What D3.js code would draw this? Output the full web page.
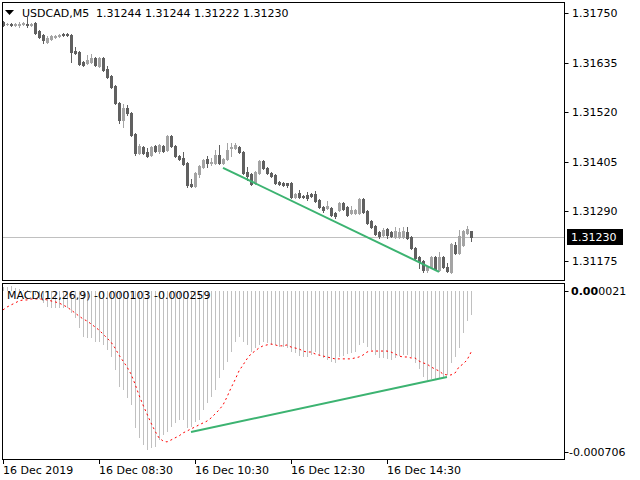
<!DOCTYPE html>
<html><head><meta charset="utf-8">
<script src="https://cdn.jsdelivr.net/npm/d3@7"></script>
<style>
body{margin:0;background:#fff}
svg{display:block}
text{font-family:"DejaVu Sans",sans-serif;font-size:11px;fill:#000}
</style>
</head><body>
<svg id="c" width="640" height="480"></svg>
<script>
const symbol = "USDCAD,M5";
const headerValues = "1.31244 1.31244 1.31222 1.31230";
const macdTitle = "MACD(12,26,9) -0.000103 -0.000259";
const timeLabels = ["16 Dec 2019","16 Dec 08:30","16 Dec 10:30","16 Dec 12:30","16 Dec 14:30"];
const timeLabelIndex = [0,24,48,72,96];
const priceTicks = [1.31750,1.31635,1.31520,1.31405,1.31290,1.31175];
const lastPrice = 1.31230;
const macdTicks = [0.000021,-0.000706];

const open = [1.31729,1.31724,1.31724,1.31722,1.31722,1.31724,1.31724,1.31722,1.31727,1.31709,
1.31699,1.31683,1.31690,1.31695,1.31697,1.31702,1.31702,1.31699,1.31662,1.31659,
1.31636,1.31634,1.31636,1.31645,1.31628,1.31645,1.31621,1.31604,1.31581,1.31542,
1.31502,1.31530,1.31518,1.31469,1.31425,1.31440,1.31428,1.31421,1.31442,1.31430,
1.31442,1.31433,1.31464,1.31442,1.31418,1.31414,1.31402,1.31354,1.31349,1.31377,
1.31393,1.31411,1.31402,1.31402,1.31421,1.31402,1.31411,1.31437,1.31437,1.31440,
1.31428,1.31382,1.31377,1.31356,1.31380,1.31407,1.31390,1.31380,1.31375,1.31358,
1.31356,1.31356,1.31356,1.31323,1.31333,1.31326,1.31328,1.31330,1.31330,1.31316,
1.31301,1.31298,1.31298,1.31287,1.31294,1.31309,1.31301,1.31287,1.31287,1.31287,
1.31319,1.31291,1.31268,1.31256,1.31242,1.31235,1.31249,1.31242,1.31230,1.31230,
1.31230,1.31242,1.31230,1.31206,1.31184,1.31175,1.31154,1.31161,1.31184,1.31154,
1.31184,1.31161,1.31149,1.31213,1.31194,1.31213,1.31240,1.31244];
const high = [1.31731,1.31727,1.31726,1.31727,1.31729,1.31729,1.31741,1.31727,1.31729,1.31710,
1.31702,1.31697,1.31699,1.31699,1.31702,1.31704,1.31704,1.31702,1.31671,1.31662,
1.31638,1.31652,1.31655,1.31648,1.31648,1.31648,1.31628,1.31606,1.31583,1.31544,
1.31539,1.31537,1.31521,1.31471,1.31447,1.31442,1.31437,1.31442,1.31444,1.31447,
1.31444,1.31467,1.31467,1.31444,1.31421,1.31428,1.31404,1.31365,1.31382,1.31397,
1.31411,1.31418,1.31414,1.31433,1.31444,1.31414,1.31449,1.31449,1.31449,1.31442,
1.31430,1.31393,1.31380,1.31383,1.31409,1.31409,1.31393,1.31382,1.31377,1.31361,
1.31358,1.31356,1.31358,1.31333,1.31340,1.31328,1.31335,1.31333,1.31337,1.31319,
1.31302,1.31314,1.31301,1.31289,1.31311,1.31311,1.31302,1.31302,1.31296,1.31321,
1.31321,1.31294,1.31270,1.31258,1.31244,1.31251,1.31251,1.31244,1.31254,1.31251,
1.31254,1.31254,1.31233,1.31208,1.31187,1.31177,1.31163,1.31187,1.31187,1.31196,
1.31187,1.31170,1.31217,1.31219,1.31247,1.31247,1.31256,1.31244];
const low = [1.31719,1.31722,1.31719,1.31719,1.31717,1.31722,1.31717,1.31719,1.31702,1.31692,
1.31681,1.31681,1.31688,1.31692,1.31695,1.31697,1.31697,1.31636,1.31655,1.31629,
1.31628,1.31631,1.31634,1.31628,1.31625,1.31616,1.31599,1.31576,1.31539,1.31495,
1.31485,1.31514,1.31464,1.31421,1.31423,1.31423,1.31416,1.31418,1.31428,1.31425,
1.31428,1.31430,1.31440,1.31416,1.31409,1.31397,1.31347,1.31347,1.31347,1.31370,
1.31390,1.31393,1.31397,1.31400,1.31400,1.31400,1.31409,1.31418,1.31435,1.31425,
1.31377,1.31363,1.31351,1.31354,1.31377,1.31388,1.31377,1.31370,1.31354,1.31351,
1.31349,1.31347,1.31321,1.31321,1.31321,1.31321,1.31316,1.31323,1.31311,1.31298,
1.31289,1.31296,1.31280,1.31275,1.31291,1.31294,1.31280,1.31284,1.31284,1.31284,
1.31287,1.31261,1.31251,1.31235,1.31228,1.31233,1.31228,1.31230,1.31228,1.31228,
1.31228,1.31226,1.31203,1.31180,1.31159,1.31149,1.31149,1.31159,1.31154,1.31152,
1.31159,1.31149,1.31147,1.31191,1.31191,1.31210,1.31237,1.31222];
const close = [1.31722,1.31725,1.31722,1.31724,1.31724,1.31727,1.31722,1.31724,1.31704,1.31695,
1.31688,1.31692,1.31697,1.31697,1.31699,1.31699,1.31700,1.31659,1.31657,1.31631,
1.31629,1.31641,1.31645,1.31629,1.31645,1.31618,1.31602,1.31578,1.31542,1.31502,
1.31530,1.31518,1.31467,1.31425,1.31442,1.31425,1.31418,1.31440,1.31430,1.31444,
1.31430,1.31464,1.31442,1.31418,1.31411,1.31400,1.31351,1.31349,1.31380,1.31395,
1.31409,1.31402,1.31404,1.31421,1.31402,1.31411,1.31433,1.31440,1.31444,1.31428,
1.31380,1.31372,1.31354,1.31382,1.31407,1.31390,1.31380,1.31372,1.31356,1.31354,
1.31351,1.31351,1.31323,1.31330,1.31323,1.31323,1.31321,1.31326,1.31314,1.31301,
1.31294,1.31302,1.31282,1.31280,1.31309,1.31296,1.31282,1.31294,1.31294,1.31319,
1.31289,1.31263,1.31254,1.31237,1.31233,1.31247,1.31235,1.31233,1.31244,1.31242,
1.31244,1.31228,1.31206,1.31182,1.31173,1.31154,1.31161,1.31184,1.31156,1.31184,
1.31161,1.31152,1.31215,1.31194,1.31233,1.31244,1.31249,1.31230];

const macd = [0.000015,0.000018,0.000021,0.000014,0.000010,0.000006,0.000002,-0.000005,-0.000018,-0.000035,
-0.000051,-0.000066,-0.000072,-0.000070,-0.000072,-0.000070,-0.000072,-0.000093,-0.000114,-0.000156,
-0.000194,-0.000199,-0.000199,-0.000216,-0.000216,-0.000228,-0.000249,-0.000279,-0.000334,-0.000406,
-0.000418,-0.000452,-0.000482,-0.000579,-0.000621,-0.000651,-0.000672,-0.000664,-0.000659,-0.000630,
-0.000609,-0.000596,-0.000575,-0.000558,-0.000545,-0.000545,-0.000579,-0.000575,-0.000554,-0.000545,
-0.000503,-0.000473,-0.000448,-0.000418,-0.000368,-0.000334,-0.000300,-0.000258,-0.000216,-0.000194,
-0.000216,-0.000228,-0.000258,-0.000241,-0.000228,-0.000216,-0.000220,-0.000228,-0.000228,-0.000237,
-0.000237,-0.000241,-0.000258,-0.000262,-0.000275,-0.000279,-0.000279,-0.000271,-0.000258,-0.000271,
-0.000283,-0.000292,-0.000300,-0.000304,-0.000279,-0.000275,-0.000266,-0.000262,-0.000258,-0.000228,
-0.000220,-0.000237,-0.000249,-0.000271,-0.000283,-0.000283,-0.000287,-0.000292,-0.000283,-0.000275,
-0.000271,-0.000271,-0.000279,-0.000304,-0.000330,-0.000362,-0.000376,-0.000372,-0.000376,-0.000368,
-0.000364,-0.000355,-0.000304,-0.000279,-0.000241,-0.000176,-0.000126,-0.000103];
const signal = [-0.000080,-0.000068,-0.000059,-0.000051,-0.000042,-0.000038,-0.000038,-0.000034,-0.000034,-0.000034,
-0.000034,-0.000038,-0.000042,-0.000046,-0.000051,-0.000059,-0.000068,-0.000080,-0.000093,-0.000106,
-0.000118,-0.000127,-0.000139,-0.000152,-0.000165,-0.000182,-0.000199,-0.000216,-0.000241,-0.000271,
-0.000296,-0.000321,-0.000351,-0.000393,-0.000440,-0.000482,-0.000520,-0.000558,-0.000592,-0.000621,
-0.000634,-0.000638,-0.000630,-0.000621,-0.000613,-0.000600,-0.000592,-0.000583,-0.000575,-0.000566,
-0.000558,-0.000550,-0.000537,-0.000520,-0.000503,-0.000482,-0.000448,-0.000410,-0.000376,-0.000338,
-0.000313,-0.000287,-0.000266,-0.000254,-0.000241,-0.000232,-0.000228,-0.000224,-0.000228,-0.000232,
-0.000232,-0.000228,-0.000237,-0.000241,-0.000245,-0.000254,-0.000258,-0.000258,-0.000266,-0.000271,
-0.000275,-0.000279,-0.000283,-0.000287,-0.000287,-0.000287,-0.000287,-0.000287,-0.000283,-0.000279,
-0.000271,-0.000258,-0.000254,-0.000254,-0.000254,-0.000254,-0.000254,-0.000258,-0.000266,-0.000275,
-0.000279,-0.000279,-0.000283,-0.000283,-0.000296,-0.000304,-0.000309,-0.000321,-0.000330,-0.000338,
-0.000351,-0.000355,-0.000355,-0.000347,-0.000321,-0.000309,-0.000292,-0.000259];

const priceTrendIdx = [55,109];
const priceTrendVal = [1.31391,1.31150];
const macdTrendIdx = [47,111];
const macdTrendVal = [-0.000596,-0.000364];

const svg = d3.select("#c");
const L = 2.5, R = 564.5;
const x = d3.scaleLinear().domain([0, open.length - 1]).range([3, 3 + 4 * (open.length - 1)]);
const y = d3.scaleLinear().domain([1.31175, 1.31750]).range([261, 13]);
const ym = d3.scaleLinear().domain([-0.000706, 0.000021]).range([458, 286]);

// main pane: price line
const py = Math.round(y(lastPrice)) + 0.5;
svg.append("line").attr("x1", L).attr("x2", R).attr("y1", py).attr("y2", py)
  .attr("stroke", "#c0c0c0").attr("stroke-width", 1);

// candles
const bull = "#a4a4a4", bear = "#606060";
const cg = svg.append("g");
open.forEach((o, i) => {
  const c = close[i];
  const col = c >= o ? bull : bear;
  const cx = Math.round(x(i));
  const yh = Math.round(y(high[i])), yl = Math.round(y(low[i]));
  const yt = Math.round(y(Math.max(o, c))), yb = Math.round(y(Math.min(o, c)));
  cg.append("rect").attr("x", cx).attr("y", yh).attr("width", 1).attr("height", Math.max(1, yl - yh + 1)).attr("fill", col);
  cg.append("rect").attr("x", cx - 1).attr("y", yt).attr("width", 3).attr("height", Math.max(1, yb - yt + 1)).attr("fill", col);
});

// price trend line
svg.append("line")
  .attr("x1", x(priceTrendIdx[0])).attr("y1", y(priceTrendVal[0]))
  .attr("x2", x(priceTrendIdx[1])).attr("y2", y(priceTrendVal[1]))
  .attr("stroke", "#3cb371").attr("stroke-width", 2);

// MACD histogram
const y0 = Math.round(ym(0));
const hg = svg.append("g");
macd.forEach((v, i) => {
  const cx = Math.round(x(i)) + 0.5;
  hg.append("line").attr("x1", cx).attr("x2", cx).attr("y1", y0).attr("y2", Math.round(ym(v)))
    .attr("stroke", "#c0c0c0").attr("stroke-width", 1);
});

// signal line
svg.append("path").datum(signal)
  .attr("d", d3.line().x((d, i) => x(i)).y(d => ym(d)))
  .attr("fill", "none").attr("stroke", "#ff0000").attr("stroke-width", 1).attr("stroke-dasharray", "2,3");

// MACD trend line
svg.append("line")
  .attr("x1", x(macdTrendIdx[0])).attr("y1", ym(macdTrendVal[0]))
  .attr("x2", x(macdTrendIdx[1])).attr("y2", ym(macdTrendVal[1]))
  .attr("stroke", "#3cb371").attr("stroke-width", 2);

// frames
svg.append("rect").attr("x", L).attr("y", 2.5).attr("width", R - L).attr("height", 278)
  .attr("fill", "none").attr("stroke", "#000");
svg.append("rect").attr("x", L).attr("y", 283.5).attr("width", R - L).attr("height", 176)
  .attr("fill", "none").attr("stroke", "#000");

// right price axis
priceTicks.forEach(p => {
  const ty = Math.round(y(p)) + 0.5;
  svg.append("line").attr("x1", R).attr("x2", R + 4).attr("y1", ty).attr("y2", ty).attr("stroke", "#000");
  svg.append("text").attr("x", 572).attr("y", ty).attr("dy", "0.36em").text(p.toFixed(5));
});
// last price label
svg.append("rect").attr("x", 567).attr("y", py - 8.5).attr("width", 56).attr("height", 16).attr("fill", "#000");
svg.append("text").attr("x", 571).attr("y", py).attr("dy", "0.36em").style("fill", "#fff").text(lastPrice.toFixed(5));

// MACD axis (top label: zero-level "0.00" drawn over the max value, as bold leading digits)
macdTicks.forEach(v => {
  const ty = Math.round(Math.max(291, Math.min(452, ym(v)))) + 0.5;
  svg.append("line").attr("x1", R).attr("x2", R + 4).attr("y1", ty).attr("y2", ty).attr("stroke", "#000");
  const label = v.toFixed(6);
  const t = svg.append("text").attr("x", v < 0 ? 569 : 571).attr("y", ty).attr("dy", "0.36em");
  if (v > 0) {
    t.append("tspan").style("font-weight", "bold").text(label.slice(0, 4));
    t.append("tspan").text(label.slice(4));
  } else {
    t.text(label);
  }
});

// time axis
timeLabelIndex.forEach((idx, k) => {
  const tx = Math.round(x(idx)) + 0.5;
  svg.append("line").attr("x1", tx).attr("x2", tx).attr("y1", 459.5).attr("y2", 464).attr("stroke", "#000");
  svg.append("text").attr("x", tx - 0.5).attr("y", 474).text(timeLabels[k]);
});

// titles
svg.append("path").attr("d", "M5,10 L14,10 L9.5,15 Z").attr("fill", "#000");
svg.append("text").attr("x", 22).attr("y", 17).text(symbol);
svg.append("text").attr("x", 96).attr("y", 17).text(headerValues);
svg.append("text").attr("x", 7).attr("y", 298.5).text(macdTitle);
</script>
</body></html>
